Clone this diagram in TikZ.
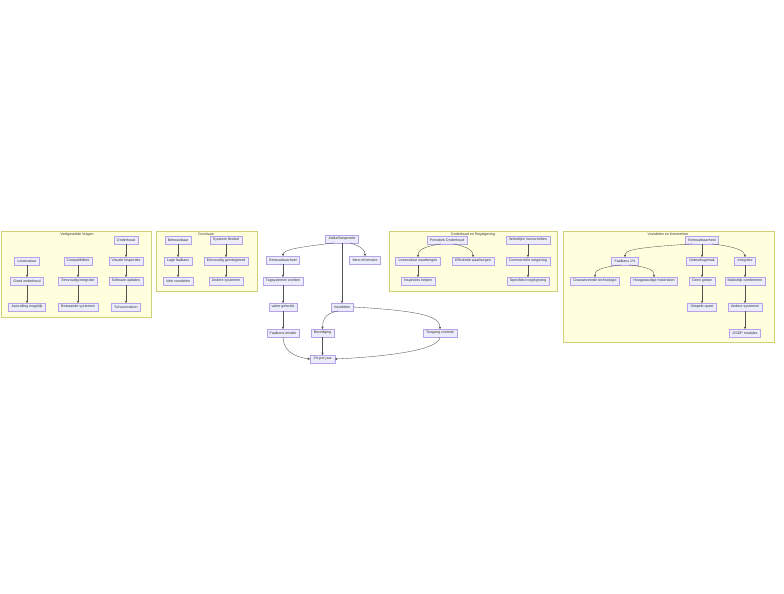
\documentclass[tikz,border=0pt]{standalone}
\usepackage{fontspec}
\setmainfont{Liberation Sans}
\usetikzlibrary{arrows.meta}
\definecolor{nodefill}{HTML}{ECECFF}
\definecolor{nodeline}{HTML}{B7A2E8}
\definecolor{clusterfill}{HTML}{FFFFDE}
\definecolor{clusterline}{HTML}{D0D07A}
\definecolor{edgegray}{HTML}{333333}
\tikzset{
 box/.style={draw=nodeline,fill=nodefill,line width=0.25pt,inner xsep=3pt,inner ysep=0.5pt,minimum height=7.5pt,text=edgegray},
 edge/.style={draw=edgegray!85,line width=0.35pt,-{Stealth[length=2.6pt,width=2.4pt]}},
 cluster/.style={draw=clusterline,fill=clusterfill,line width=0.3pt},
 ctitle/.style={text=edgegray}
}
\begin{document}
\begin{tikzpicture}[x=1pt,y=-1pt,font=\fontsize{3.6}{4.2}\selectfont]
\useasboundingbox (0,0) rectangle (784,594);
\fill[white] (0,0) rectangle (784,594);
% groups
\draw[cluster] (1,231) rectangle (151,317);
\node[ctitle] (t1) at (77,234.5) {Veelgestelde Vragen};
\draw[cluster] (156,231) rectangle (257,291);
\node[ctitle] (t2) at (206,234.5) {Conclusie};
\draw[cluster] (389,231) rectangle (557,291);
\node[ctitle] (t4) at (473,234.5) {Onderhoud en Regelgeving};
\draw[cluster] (563,231) rectangle (774,342);
\node[ctitle] (t5) at (668,234.5) {Voordelen en Kenmerken};
% Veelgestelde Vragen
\node[box] (ond) at (126,240) {Onderhoud};
\node[box] (levd) at (27,261) {Levensduur};
\node[box] (comp) at (78,261) {Compatibiliteit};
\node[box] (vis) at (126,261) {Visuele inspecties};
\node[box] (goed) at (27,281) {Goed onderhoud};
\node[box] (eenv) at (78,281) {Eenvoudig integratie};
\node[box] (soft) at (126,281) {Software updates};
\node[box] (aanv) at (27,307) {Aanvulling mogelijk};
\node[box] (best) at (78,307) {Bestaande systemen};
\node[box] (schoon) at (126,307) {Schoonmaken};
% Conclusie
\node[box] (betr) at (178,240) {Betrouwbaar};
\node[box] (flex) at (226,240) {Systeem flexibel};
\node[box] (lage) at (178,261) {Lage faalkans};
\node[box] (geint) at (226,261) {Eenvoudig geïntegreerd};
\node[box] (vele) at (178,281) {Vele voordelen};
\node[box] (andc) at (226,281) {Andere systemen};
% artikel
\node[box] (art) at (342,239) {Artikel bespreekt};
\node[box] (bet) at (283,260) {Betrouwbaarheid};
\node[box] (meer) at (365,260) {Meer informatie};
\node[box] (tag) at (283,281) {Tagsystemen worden};
\node[box] (vaker) at (283,307) {vaker gebruikt};
\node[box] (voor) at (342,307) {Voordelen};
\node[box] (faal) at (283,333) {Faalkans minder};
\node[box] (bev) at (322.5,333) {Beveiliging};
\node[box] (toeg) at (440,333) {Toegang controle};
\node[box] (een) at (322.5,359) {1\% per jaar};
% Onderhoud en Regelgeving
\node[box] (per) at (447,240) {Periodiek Onderhoud};
\node[box] (wet) at (528,240) {Wettelijke Voorschriften};
\node[box] (levw) at (418,261) {Levensduur waarborgen};
\node[box] (eff) at (473,261) {Efficiëntie waarborgen};
\node[box] (comm) at (528,261) {Commerciële omgeving};
\node[box] (insp) at (418,281) {Inspecties helpen};
\node[box] (spec) at (528,281) {Specifieke regelgeving};
% Voordelen en Kenmerken
\node[box] (betk) at (702,240) {Betrouwbaarheid};
\node[box] (faalk) at (625,261) {Faalkans 1\%};
\node[box] (gebr) at (702,261) {Gebruiksgemak};
\node[box] (integ) at (745,261) {Integratie};
\node[box] (gea) at (595,281) {Geavanceerde technologie};
\node[box] (hoog) at (654,281) {Hoogwaardige materialen};
\node[box] (geen) at (702,281) {Geen gedoe};
\node[box] (makk) at (745,281) {Makkelijk combineren};
\node[box] (simp) at (702,307) {Simpele opzet};
\node[box] (andk) at (745,307) {Andere systemen};
\node[box] (osdp) at (745,333) {OSDP modules};
% straight edges
\foreach \a/\b in {ond/vis,vis/soft,soft/schoon,levd/goed,goed/aanv,comp/eenv,eenv/best,
  betr/lage,lage/vele,flex/geint,geint/andc,art/voor,bet/tag,tag/vaker,vaker/faal,bev/een,
  levw/insp,wet/comm,comm/spec,betk/gebr,gebr/geen,geen/simp,integ/makk,makk/andk,andk/osdp}
  \draw[edge] (\a) -- (\b);
% curved edges
\draw[edge] ([xshift=-8pt]art.south) .. controls +(-32,4) and +(0,-7) .. (bet.north);
\draw[edge] ([xshift=8pt]art.south) .. controls +(12,4) and +(0,-6) .. (meer.north);
\draw[edge] (faal.south) .. controls +(0,14) and +(-16,-2) .. (een.west);
\draw[edge] ([xshift=-4pt]voor.south) .. controls +(-14,3) and +(0,-9) .. (bev.north);
\draw[edge] (voor.east) .. controls +(72,4) and +(0,-12) .. (toeg.north);
\draw[edge] (toeg.south) .. controls +(0,14) and +(45,-2) .. (een.east);
\draw[edge] ([xshift=-6pt]per.south) .. controls +(-20,3) and +(0,-6) .. (levw.north);
\draw[edge] ([xshift=6pt]per.south) .. controls +(16,3) and +(0,-6) .. (eff.north);
\draw[edge] ([xshift=-10pt]betk.south) .. controls +(-60,4) and +(0,-7) .. (faalk.north);
\draw[edge] ([xshift=10pt]betk.south) .. controls +(25,3) and +(0,-6) .. (integ.north);
\draw[edge] ([xshift=-4pt]faalk.south) .. controls +(-24,3) and +(0,-6) .. (gea.north);
\draw[edge] ([xshift=4pt]faalk.south) .. controls +(24,3) and +(0,-6) .. (hoog.north);
\end{tikzpicture}
\end{document}
